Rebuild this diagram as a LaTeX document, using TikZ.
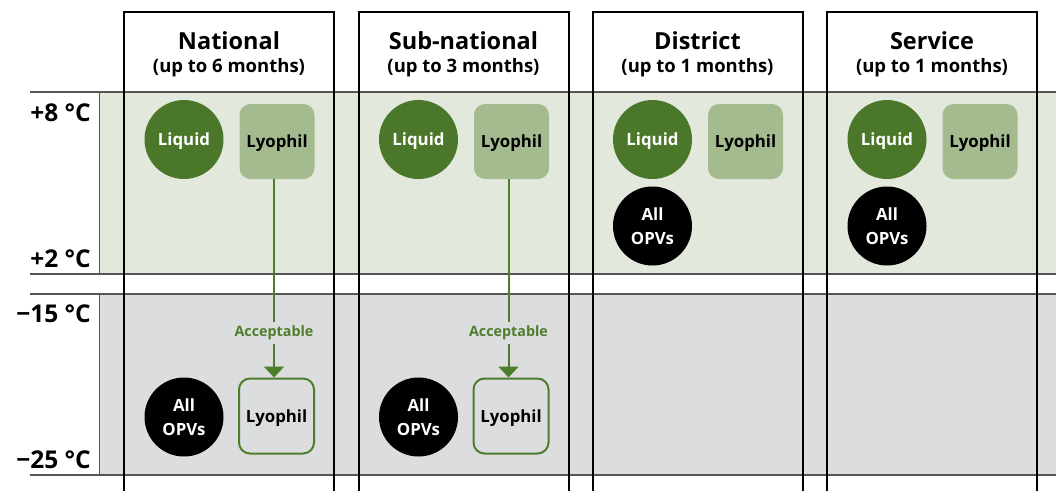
\documentclass[tikz,border=0pt]{standalone}
\usepackage{fontspec}
\setmainfont{Open Sans}
\usetikzlibrary{arrows.meta}
\definecolor{bandgreen}{HTML}{E2E8DC}
\definecolor{bandgray}{HTML}{DCDDDF}
\definecolor{liqgreen}{HTML}{4A7729}
\definecolor{lyogreen}{HTML}{A4BB8F}
\definecolor{accgreen}{HTML}{4E7E2B}
\definecolor{rule}{HTML}{555555}
\tikzset{
  hline/.style={draw=rule, line width=1.1pt},
  frame/.style={draw=black, line width=2pt},
  coltitle/.style={font=\fontsize{23.5}{27}\selectfont\bfseries, inner sep=0pt},
  colsub/.style={font=\fontsize{18.5}{22}\selectfont\bfseries, inner sep=0pt},
  temp/.style={font=\fontsize{24.5}{28}\selectfont\bfseries, inner sep=0pt, anchor=east},
  liquid/.style={circle, fill=liqgreen, minimum size=79pt, inner sep=0pt, text=white, text depth=0pt, font=\fontsize{16.8}{18}\selectfont\bfseries},
  opv/.style={circle, fill=black, minimum size=79pt, inner sep=0pt, text=white, align=center, font=\fontsize{16.8}{23.5}\selectfont\bfseries},
  lyo/.style={rectangle, rounded corners=11pt, fill=lyogreen, minimum width=75pt, minimum height=75pt, inner sep=0pt, text depth=0pt, font=\fontsize{16.8}{18}\selectfont\bfseries},
  lyofrozen/.style={rectangle, rounded corners=11pt, draw=accgreen, line width=2pt, minimum width=75pt, minimum height=75pt, inner sep=0pt, text depth=0pt, font=\fontsize{16.8}{18}\selectfont\bfseries},
  acc/.style={text=accgreen, font=\fontsize{14.3}{16}\selectfont\bfseries, inner xsep=1pt, inner ysep=4pt},
  accline/.style={draw=accgreen, line width=2pt},
  accarrow/.style={draw=accgreen, line width=2pt, -{Triangle[width=20pt,length=11pt]}}
}
\begin{document}
\begin{tikzpicture}[x=1pt,y=-1pt]
\useasboundingbox (0,0) rectangle (1056,491);
% bands
\fill[bandgreen] (99,92) rectangle (1056,274);
\fill[bandgray] (99,294) rectangle (1056,475);
\draw[hline] (30,92) -- (1056,92);
\draw[hline] (30,274) -- (1056,274);
\draw[hline] (30,294) -- (1056,294);
\draw[hline] (30,475) -- (1056,475);
\draw[draw=rule, line width=0.8pt] (99,92) -- (99,274);
\draw[draw=rule, line width=0.8pt] (99,294) -- (99,475);
% temperature labels
\node[temp] (t8) at (91,113) {+8 °C};
\node[temp] (t2) at (91,259) {+2 °C};
\node[temp] (t15) at (91,314) {−15 °C};
\node[temp] (t25) at (91,460) {−25 °C};
% columns
\foreach \i/\x/\ttl/\m in {1/124/National/6, 2/358.5/Sub-national/3, 3/592.5/District/1, 4/827/Service/1}{
  \draw[frame] (\x,491) -- (\x,12) -- (\x+210,12) -- (\x+210,491);
  \node[coltitle] (title\i) at (\x+105,41) {\ttl};
  \node[colsub] (sub\i) at (\x+105,68) {(up to \m{} months)};
  \node[liquid] (liq\i) at (\x+60,139.5) {Liquid};
  \node[lyo] (lyo\i) at (\x+153,141.5) {Lyophil};
}
% frozen storage for national / sub-national
\foreach \i/\x in {1/124, 2/358.5}{
  \node[opv] (opvlow\i) at (\x+60,417) {All\\OPVs};
  \node[lyofrozen] (lyolow\i) at (\x+152.5,416) {Lyophil};
  \node[acc] (acc\i) at (\x+150,333) {Acceptable};
  \draw[accline] (lyo\i.south -| acc\i) -- (acc\i);
  \draw[accarrow] (acc\i) -- (lyolow\i.north -| acc\i);
}
% district / service OPVs
\node[opv] (opv3) at (592.5+60,226) {All\\OPVs};
\node[opv] (opv4) at (827+60,226) {All\\OPVs};
\end{tikzpicture}
\end{document}
